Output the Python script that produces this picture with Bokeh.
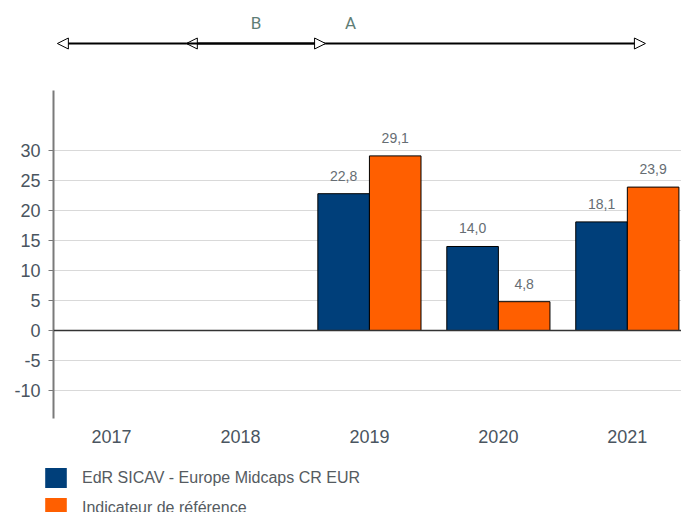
import numpy as np
from bokeh.plotting import figure
from bokeh.layouts import column
from bokeh.models import (ColumnDataSource, Range1d, FixedTicker, Span, Arrow,
                          NormalHead, Label, Legend, LegendItem)
from bokeh.embed import file_html
from bokeh.resources import INLINE
from bokeh.core.properties import value

# ---------------- data ----------------
years = ["2017", "2018", "2019", "2020", "2021"]
fund = [None, None, 22.8, 14.0, 18.1]
bench = [None, None, 29.1, 4.8, 23.9]
fund_name = "EdR SICAV - Europe Midcaps CR EUR"
bench_name = "Indicateur de référence"
y_ticks = [-10, -5, 0, 5, 10, 15, 20, 25, 30]
y_tick_labels = ["-10", "-5", "0", "5", "10", "15", "20", "25", "30"]
# periods on the timeline (in category units)
period_bounds = [-0.42, 0.58, 1.66, 4.14]
period_labels = ["B", "A"]

BLUE = "#003f7a"
ORANGE = "#ff5f00"
FONT = "Liberation Sans"
TXT = "#4a5560"

idx = np.arange(len(years))
fund_v = np.array([np.nan if v is None else v for v in fund])
bench_v = np.array([np.nan if v is None else v for v in bench])

x_range = Range1d(-0.45, 4.42)

# ---------------- timeline ----------------
tl = figure(width=681, height=90, x_range=x_range, y_range=Range1d(0, 90),
            output_backend="svg", toolbar_location=None,
            x_axis_location=None, y_axis_location=None,
            min_border_left=53, min_border_right=0, min_border_top=0, min_border_bottom=0)
tl.outline_line_color = None
tl.grid.visible = False
ty = 47
def head():
    return NormalHead(size=11, fill_color="white", line_color="black", line_width=1)
b0, b1, b2, b3 = period_bounds
tl.add_layout(Arrow(x_start=b1, y_start=ty, x_end=b0, y_end=ty, end=head(),
                    line_color="black", line_width=2))
tl.add_layout(Arrow(x_start=b2, y_start=ty, x_end=b1, y_end=ty, end=head(),
                    line_color="black", line_width=2))
tl.add_layout(Arrow(x_start=b1, y_start=ty, x_end=b2, y_end=ty, end=head(),
                    line_color="black", line_width=2))
tl.add_layout(Arrow(x_start=b2, y_start=ty, x_end=b3, y_end=ty, end=head(),
                    line_color="black", line_width=2))
tl.add_layout(Label(x=(b1 + b2) / 2, y=68, text=period_labels[0], text_align="center",
                    text_baseline="middle", text_font="Roboto", text_font_size="17px",
                    text_color="#5e7d76"))
tl.add_layout(Label(x=b2 + 0.15, y=68, text=period_labels[1], text_align="left",
                    text_baseline="middle", text_font="Roboto", text_font_size="17px",
                    text_color="#5e7d76"))

# ---------------- main chart ----------------
p = figure(width=681, height=358, x_range=x_range, y_range=Range1d(-14.67, 40),
           output_backend="svg", toolbar_location=None,
           min_border_left=53, min_border_right=0, min_border_top=0, min_border_bottom=30)
p.outline_line_color = None

src_f = ColumnDataSource(dict(x=idx - 0.2, top=fund_v))
src_b = ColumnDataSource(dict(x=idx + 0.2, top=bench_v))
p.vbar(x="x", top="top", bottom=0, width=0.4, source=src_f,
       fill_color=BLUE, line_color="black", line_width=1)
p.vbar(x="x", top="top", bottom=0, width=0.4, source=src_b,
       fill_color=ORANGE, line_color="black", line_width=1)

p.add_layout(Span(location=0, dimension="width", line_color="#333333", line_width=1.5))

def fmt(v):
    return f"{v:.1f}".replace(".", ",")

lab_x, lab_y, lab_t = [], [], []
for xs, vals in ((idx - 0.2, fund_v), (idx + 0.2, bench_v)):
    for xx, vv in zip(xs, vals):
        if not np.isnan(vv):
            lab_x.append(xx); lab_y.append(vv); lab_t.append(fmt(vv))
p.text(x=lab_x, y=lab_y, text=lab_t, text_align="center", text_baseline="bottom",
       y_offset=-13, text_font=value(FONT), text_font_size="14px", text_color="#666d73")

p.xaxis.ticker = FixedTicker(ticks=list(idx))
p.xaxis.major_label_overrides = {int(i): y for i, y in zip(idx, years)}
p.xaxis.axis_line_color = None
p.xaxis.major_tick_line_color = None
p.xaxis.major_tick_out = 0
p.xaxis.minor_tick_line_color = None
p.xaxis.major_label_standoff = 11
p.xaxis.major_label_text_font = FONT
p.xaxis.major_label_text_font_size = "18px"
p.xaxis.major_label_text_color = TXT

p.yaxis.ticker = FixedTicker(ticks=y_ticks)
p.yaxis.major_label_overrides = {t: s for t, s in zip(y_ticks, y_tick_labels)}
p.yaxis.axis_line_color = "#7a7a7a"
p.yaxis.axis_line_width = 2
p.yaxis.major_tick_line_color = "#7a7a7a"
p.yaxis.major_tick_out = 5
p.yaxis.major_tick_in = 0
p.yaxis.minor_tick_line_color = None
p.yaxis.major_label_standoff = 8
p.yaxis.major_label_text_font = FONT
p.yaxis.major_label_text_font_size = "18px"
p.yaxis.major_label_text_color = TXT

p.xgrid.visible = False
p.ygrid.ticker = FixedTicker(ticks=y_ticks)
p.ygrid.grid_line_color = "#d9d9d9"

# ---------------- legend ----------------
lg = figure(width=681, height=64, x_range=Range1d(0, 1), y_range=Range1d(0, 1),
            output_backend="svg", toolbar_location=None,
            x_axis_location=None, y_axis_location=None,
            min_border_left=0, min_border_right=0, min_border_top=0, min_border_bottom=0)
lg.frame_align = False
lg.outline_line_color = None
lg.grid.visible = False
# off-screen placeholder marks (outside the 0..1 ranges) so the legend swatches render
lf = lg.vbar(x=[5], top=[5], bottom=[4], width=0.1, fill_color=BLUE, line_color=None)
lb = lg.vbar(x=[5], top=[5], bottom=[4], width=0.1, fill_color=ORANGE, line_color=None)
legend = Legend(items=[LegendItem(label=fund_name, renderers=[lf]),
                       LegendItem(label=bench_name, renderers=[lb])],
                location=(42, -8), orientation="vertical",
                glyph_width=27, glyph_height=25, spacing=5, label_standoff=13,
                padding=0, margin=0, border_line_color=None, background_fill_alpha=0,
                label_text_font=FONT, label_text_font_size="16px", label_text_color="#555b61")
lg.add_layout(legend)

layout = column(tl, p, lg, spacing=0)
open("out.html", "w").write(file_html(layout, INLINE))
